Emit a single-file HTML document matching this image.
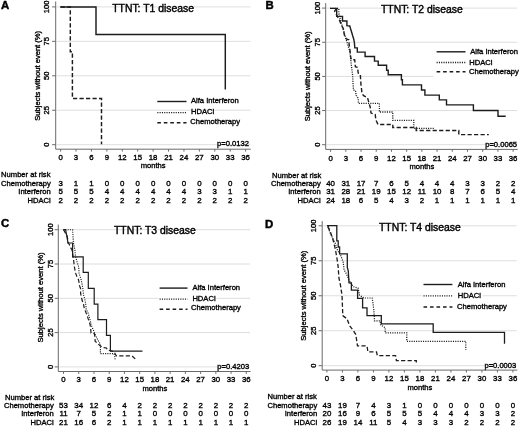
<!DOCTYPE html><html><head><meta charset="utf-8"><style>html,body{margin:0;padding:0;background:#fff;}svg{display:block;filter:grayscale(1);}text{stroke:#000;stroke-width:0.35px;}</style></head><body>
<svg width="520" height="427" viewBox="0 0 520 427" style="font-family:'Liberation Sans', sans-serif">
<rect width="520" height="427" fill="#fff"/>
<g fill="#000"><line x1="56.7" y1="144.7" x2="250.3" y2="144.7" stroke="#dedede" stroke-width="1"/><line x1="56.7" y1="110.25" x2="250.3" y2="110.25" stroke="#dedede" stroke-width="1"/><line x1="56.7" y1="75.8" x2="250.3" y2="75.8" stroke="#dedede" stroke-width="1"/><line x1="56.7" y1="41.35" x2="250.3" y2="41.35" stroke="#dedede" stroke-width="1"/><line x1="56.7" y1="6.9" x2="250.3" y2="6.9" stroke="#dedede" stroke-width="1"/><path d="M55.7,1.5 V149.2 H250.8" fill="none" stroke="#6a6a6a" stroke-width="1"/><line x1="52.1" y1="144.7" x2="55.7" y2="144.7" stroke="#6a6a6a" stroke-width="1"/><text transform="translate(49.4,144.7) rotate(-90)" text-anchor="middle" font-size="7.6">0</text><line x1="52.1" y1="110.25" x2="55.7" y2="110.25" stroke="#6a6a6a" stroke-width="1"/><text transform="translate(49.4,110.25) rotate(-90)" text-anchor="middle" font-size="7.6">25</text><line x1="52.1" y1="75.8" x2="55.7" y2="75.8" stroke="#6a6a6a" stroke-width="1"/><text transform="translate(49.4,75.8) rotate(-90)" text-anchor="middle" font-size="7.6">50</text><line x1="52.1" y1="41.35" x2="55.7" y2="41.35" stroke="#6a6a6a" stroke-width="1"/><text transform="translate(49.4,41.35) rotate(-90)" text-anchor="middle" font-size="7.6">75</text><line x1="52.1" y1="6.9" x2="55.7" y2="6.9" stroke="#6a6a6a" stroke-width="1"/><text transform="translate(49.4,6.9) rotate(-90)" text-anchor="middle" font-size="7.6">100</text><line x1="60.6" y1="149.2" x2="60.6" y2="151.6" stroke="#6a6a6a" stroke-width="1"/><text x="60.6" y="159.7" text-anchor="middle" font-size="7.8">0</text><line x1="76.02" y1="149.2" x2="76.02" y2="151.6" stroke="#6a6a6a" stroke-width="1"/><text x="76.02" y="159.7" text-anchor="middle" font-size="7.8">3</text><line x1="91.43" y1="149.2" x2="91.43" y2="151.6" stroke="#6a6a6a" stroke-width="1"/><text x="91.43" y="159.7" text-anchor="middle" font-size="7.8">6</text><line x1="106.85" y1="149.2" x2="106.85" y2="151.6" stroke="#6a6a6a" stroke-width="1"/><text x="106.85" y="159.7" text-anchor="middle" font-size="7.8">9</text><line x1="122.27" y1="149.2" x2="122.27" y2="151.6" stroke="#6a6a6a" stroke-width="1"/><text x="122.27" y="159.7" text-anchor="middle" font-size="7.8">12</text><line x1="137.69" y1="149.2" x2="137.69" y2="151.6" stroke="#6a6a6a" stroke-width="1"/><text x="137.69" y="159.7" text-anchor="middle" font-size="7.8">15</text><line x1="153.1" y1="149.2" x2="153.1" y2="151.6" stroke="#6a6a6a" stroke-width="1"/><text x="153.1" y="159.7" text-anchor="middle" font-size="7.8">18</text><line x1="168.52" y1="149.2" x2="168.52" y2="151.6" stroke="#6a6a6a" stroke-width="1"/><text x="168.52" y="159.7" text-anchor="middle" font-size="7.8">21</text><line x1="183.94" y1="149.2" x2="183.94" y2="151.6" stroke="#6a6a6a" stroke-width="1"/><text x="183.94" y="159.7" text-anchor="middle" font-size="7.8">24</text><line x1="199.35" y1="149.2" x2="199.35" y2="151.6" stroke="#6a6a6a" stroke-width="1"/><text x="199.35" y="159.7" text-anchor="middle" font-size="7.8">27</text><line x1="214.77" y1="149.2" x2="214.77" y2="151.6" stroke="#6a6a6a" stroke-width="1"/><text x="214.77" y="159.7" text-anchor="middle" font-size="7.8">30</text><line x1="230.19" y1="149.2" x2="230.19" y2="151.6" stroke="#6a6a6a" stroke-width="1"/><text x="230.19" y="159.7" text-anchor="middle" font-size="7.8">33</text><line x1="245.6" y1="149.2" x2="245.6" y2="151.6" stroke="#6a6a6a" stroke-width="1"/><text x="245.6" y="159.7" text-anchor="middle" font-size="7.8">36</text><text x="153.1" y="168.3" text-anchor="middle" font-size="7.6">months</text><text transform="translate(39.8,75.8) rotate(-90)" text-anchor="middle" font-size="7.6">Subjects without event (%)</text><text x="153.1" y="11.9" text-anchor="middle" font-size="10.4" style="stroke-width:0.4px">TTNT: T1 disease</text><text x="1" y="8.9" font-size="11.4" font-weight="bold" style="stroke-width:0.45px">A</text><text x="249" y="146.3" text-anchor="end" font-size="7.6">p=0.0132</text><path d="M60.6,6.9 H70.3 V51.8 H72.4 V98.5 H101.5 V144.3" fill="none" stroke="#1c1c1c" stroke-width="1.45" stroke-dasharray="4.2 2.3"/><path d="M60.2,6.9 H96 V34.5 H225.3 V89.4" fill="none" stroke="#1c1c1c" stroke-width="1.45"/><line x1="157.3" y1="101.5" x2="186.5" y2="101.5" stroke="#1c1c1c" stroke-width="1.4"/><text x="191" y="103.3" font-size="7.6">Alfa Interferon</text><line x1="157.3" y1="112.7" x2="186.5" y2="112.7" stroke="#1c1c1c" stroke-width="1.3" stroke-dasharray="1.1 1.2"/><text x="191" y="113.9" font-size="7.6">HDACi</text><line x1="157.3" y1="122.7" x2="186.5" y2="122.7" stroke="#1c1c1c" stroke-width="1.4" stroke-dasharray="3.6 2.9"/><text x="190.3" y="124.1" font-size="7.6">Chemotherapy</text><text x="1.1" y="177.4" font-size="7.6">Number at risk</text><text x="50.8" y="185.5" text-anchor="end" font-size="7.6">Chemotherapy</text><text x="60.6" y="185.5" text-anchor="middle" font-size="7.9">3</text><text x="76.02" y="185.5" text-anchor="middle" font-size="7.9">1</text><text x="91.43" y="185.5" text-anchor="middle" font-size="7.9">1</text><text x="106.85" y="185.5" text-anchor="middle" font-size="7.9">0</text><text x="122.27" y="185.5" text-anchor="middle" font-size="7.9">0</text><text x="137.69" y="185.5" text-anchor="middle" font-size="7.9">0</text><text x="153.1" y="185.5" text-anchor="middle" font-size="7.9">0</text><text x="168.52" y="185.5" text-anchor="middle" font-size="7.9">0</text><text x="183.94" y="185.5" text-anchor="middle" font-size="7.9">0</text><text x="199.35" y="185.5" text-anchor="middle" font-size="7.9">0</text><text x="214.77" y="185.5" text-anchor="middle" font-size="7.9">0</text><text x="230.19" y="185.5" text-anchor="middle" font-size="7.9">0</text><text x="245.6" y="185.5" text-anchor="middle" font-size="7.9">0</text><text x="50.8" y="194.1" text-anchor="end" font-size="7.6">Interferon</text><text x="60.6" y="194.1" text-anchor="middle" font-size="7.9">5</text><text x="76.02" y="194.1" text-anchor="middle" font-size="7.9">5</text><text x="91.43" y="194.1" text-anchor="middle" font-size="7.9">5</text><text x="106.85" y="194.1" text-anchor="middle" font-size="7.9">4</text><text x="122.27" y="194.1" text-anchor="middle" font-size="7.9">4</text><text x="137.69" y="194.1" text-anchor="middle" font-size="7.9">4</text><text x="153.1" y="194.1" text-anchor="middle" font-size="7.9">4</text><text x="168.52" y="194.1" text-anchor="middle" font-size="7.9">4</text><text x="183.94" y="194.1" text-anchor="middle" font-size="7.9">4</text><text x="199.35" y="194.1" text-anchor="middle" font-size="7.9">3</text><text x="214.77" y="194.1" text-anchor="middle" font-size="7.9">3</text><text x="230.19" y="194.1" text-anchor="middle" font-size="7.9">1</text><text x="245.6" y="194.1" text-anchor="middle" font-size="7.9">1</text><text x="50.8" y="202.9" text-anchor="end" font-size="7.6">HDACi</text><text x="60.6" y="202.9" text-anchor="middle" font-size="7.9">2</text><text x="76.02" y="202.9" text-anchor="middle" font-size="7.9">2</text><text x="91.43" y="202.9" text-anchor="middle" font-size="7.9">2</text><text x="106.85" y="202.9" text-anchor="middle" font-size="7.9">2</text><text x="122.27" y="202.9" text-anchor="middle" font-size="7.9">2</text><text x="137.69" y="202.9" text-anchor="middle" font-size="7.9">2</text><text x="153.1" y="202.9" text-anchor="middle" font-size="7.9">2</text><text x="168.52" y="202.9" text-anchor="middle" font-size="7.9">2</text><text x="183.94" y="202.9" text-anchor="middle" font-size="7.9">2</text><text x="199.35" y="202.9" text-anchor="middle" font-size="7.9">2</text><text x="214.77" y="202.9" text-anchor="middle" font-size="7.9">2</text><text x="230.19" y="202.9" text-anchor="middle" font-size="7.9">2</text><text x="245.6" y="202.9" text-anchor="middle" font-size="7.9">2</text></g>
<g fill="#000"><line x1="326.7" y1="144.7" x2="517.2" y2="144.7" stroke="#dedede" stroke-width="1"/><line x1="326.7" y1="110.55" x2="517.2" y2="110.55" stroke="#dedede" stroke-width="1"/><line x1="326.7" y1="76.4" x2="517.2" y2="76.4" stroke="#dedede" stroke-width="1"/><line x1="326.7" y1="42.25" x2="517.2" y2="42.25" stroke="#dedede" stroke-width="1"/><line x1="326.7" y1="8.1" x2="517.2" y2="8.1" stroke="#dedede" stroke-width="1"/><path d="M325.7,3.1 V149.4 H517.7" fill="none" stroke="#6a6a6a" stroke-width="1"/><line x1="322.1" y1="144.7" x2="325.7" y2="144.7" stroke="#6a6a6a" stroke-width="1"/><text transform="translate(319.5,144.7) rotate(-90)" text-anchor="middle" font-size="7.6">0</text><line x1="322.1" y1="110.55" x2="325.7" y2="110.55" stroke="#6a6a6a" stroke-width="1"/><text transform="translate(319.5,110.55) rotate(-90)" text-anchor="middle" font-size="7.6">25</text><line x1="322.1" y1="76.4" x2="325.7" y2="76.4" stroke="#6a6a6a" stroke-width="1"/><text transform="translate(319.5,76.4) rotate(-90)" text-anchor="middle" font-size="7.6">50</text><line x1="322.1" y1="42.25" x2="325.7" y2="42.25" stroke="#6a6a6a" stroke-width="1"/><text transform="translate(319.5,42.25) rotate(-90)" text-anchor="middle" font-size="7.6">75</text><line x1="322.1" y1="8.1" x2="325.7" y2="8.1" stroke="#6a6a6a" stroke-width="1"/><text transform="translate(319.5,8.1) rotate(-90)" text-anchor="middle" font-size="7.6">100</text><line x1="330.6" y1="149.4" x2="330.6" y2="151.8" stroke="#6a6a6a" stroke-width="1"/><text x="330.6" y="160.9" text-anchor="middle" font-size="7.8">0</text><line x1="345.81" y1="149.4" x2="345.81" y2="151.8" stroke="#6a6a6a" stroke-width="1"/><text x="345.81" y="160.9" text-anchor="middle" font-size="7.8">3</text><line x1="361.02" y1="149.4" x2="361.02" y2="151.8" stroke="#6a6a6a" stroke-width="1"/><text x="361.02" y="160.9" text-anchor="middle" font-size="7.8">6</text><line x1="376.23" y1="149.4" x2="376.23" y2="151.8" stroke="#6a6a6a" stroke-width="1"/><text x="376.23" y="160.9" text-anchor="middle" font-size="7.8">9</text><line x1="391.44" y1="149.4" x2="391.44" y2="151.8" stroke="#6a6a6a" stroke-width="1"/><text x="391.44" y="160.9" text-anchor="middle" font-size="7.8">12</text><line x1="406.65" y1="149.4" x2="406.65" y2="151.8" stroke="#6a6a6a" stroke-width="1"/><text x="406.65" y="160.9" text-anchor="middle" font-size="7.8">15</text><line x1="421.86" y1="149.4" x2="421.86" y2="151.8" stroke="#6a6a6a" stroke-width="1"/><text x="421.86" y="160.9" text-anchor="middle" font-size="7.8">18</text><line x1="437.07" y1="149.4" x2="437.07" y2="151.8" stroke="#6a6a6a" stroke-width="1"/><text x="437.07" y="160.9" text-anchor="middle" font-size="7.8">21</text><line x1="452.28" y1="149.4" x2="452.28" y2="151.8" stroke="#6a6a6a" stroke-width="1"/><text x="452.28" y="160.9" text-anchor="middle" font-size="7.8">24</text><line x1="467.49" y1="149.4" x2="467.49" y2="151.8" stroke="#6a6a6a" stroke-width="1"/><text x="467.49" y="160.9" text-anchor="middle" font-size="7.8">27</text><line x1="482.7" y1="149.4" x2="482.7" y2="151.8" stroke="#6a6a6a" stroke-width="1"/><text x="482.7" y="160.9" text-anchor="middle" font-size="7.8">30</text><line x1="497.91" y1="149.4" x2="497.91" y2="151.8" stroke="#6a6a6a" stroke-width="1"/><text x="497.91" y="160.9" text-anchor="middle" font-size="7.8">33</text><line x1="513.12" y1="149.4" x2="513.12" y2="151.8" stroke="#6a6a6a" stroke-width="1"/><text x="513.12" y="160.9" text-anchor="middle" font-size="7.8">36</text><text x="421.86" y="168.5" text-anchor="middle" font-size="7.6">months</text><text transform="translate(310.4,76.4) rotate(-90)" text-anchor="middle" font-size="7.6">Subjects without event (%)</text><text x="421.86" y="13.1" text-anchor="middle" font-size="10.4" style="stroke-width:0.4px">TTNT: T2 disease</text><text x="265.4" y="8.9" font-size="11.4" font-weight="bold" style="stroke-width:0.45px">B</text><text x="517.1" y="146.5" text-anchor="end" font-size="7.6">p=0.0065</text><path d="M330.1,8.4 H338.8 V13.4 L340.5,20 L342.5,27 L344.5,34 L346.3,40 L349.8,51.2 L351.2,63.9 L352.6,75.1 L353.4,89.9 L355.5,90.6 L356.2,95.5 L358.3,98.3 V103.3 H379.4 V112 H392.8 V120.3 H413.8 V128.3 H434.6" fill="none" stroke="#1c1c1c" stroke-width="1.3" stroke-dasharray="1.1 1.2"/><path d="M336.5,8.6 L334.6,11 L337,16 L339,19 L341.4,25 L343.5,29.2 L344.2,34.1 L344.9,37 L346.3,39 L348.8,39.8 L349.1,44 L349.8,48.9 L350.5,55.5 L351.2,59.7 H354.7 L355.4,66.7 L357.5,67.4 L358.2,73 L360.3,74.4 L361,85 L361.9,92 L363.3,95.5 L367.5,97.6 L368.9,102.6 L370.3,107.5 L371,113.1 L375.2,114.5 L375.9,120.1 L378,124.5 H392.8 V127.5 H416.2 V130.5 H458.8 V134.6 H488.8" fill="none" stroke="#1c1c1c" stroke-width="1.4" stroke-dasharray="4.2 2.3"/><path d="M330.1,8.4 H336.7 V16.4 H342.5 V21 H346.9 V25.6 L349.8,26 L350.5,28.5 L351.6,32 L352.6,35.5 L353.7,39 L354.4,42.6 L354.8,47.9 H357.3 V52.1 H365.1 V56.5 H374.5 V61.1 H378.2 V65.3 H386.6 V70.2 H388.2 V74.8 H401.4 V79.7 H402.4 V84.9 H421.5 V90 H424.9 V95.1 H439.3 V99.9 H446.5 V104.9 H473.4 V110.5 H498 V116.2 H505.7" fill="none" stroke="#1c1c1c" stroke-width="1.4"/><rect x="433.5" y="75.15" width="85.5" height="2.4" fill="#fff"/><line x1="436.6" y1="51.8" x2="465.5" y2="51.8" stroke="#1c1c1c" stroke-width="1.4"/><text x="470.2" y="53.5" font-size="7.6">Alfa Interferon</text><line x1="436.6" y1="62.5" x2="465.5" y2="62.5" stroke="#1c1c1c" stroke-width="1.3" stroke-dasharray="1.1 1.2"/><text x="469.2" y="64.7" font-size="7.6">HDACi</text><line x1="436.6" y1="71.7" x2="465.5" y2="71.7" stroke="#1c1c1c" stroke-width="1.4" stroke-dasharray="3.6 2.9"/><text x="469" y="73.7" font-size="7.6">Chemotherapy</text><text x="272" y="178" font-size="7.6">Number at risk</text><text x="320.75" y="186" text-anchor="end" font-size="7.6">Chemotherapy</text><text x="330.6" y="186" text-anchor="middle" font-size="7.9">40</text><text x="345.81" y="186" text-anchor="middle" font-size="7.9">31</text><text x="361.02" y="186" text-anchor="middle" font-size="7.9">17</text><text x="376.23" y="186" text-anchor="middle" font-size="7.9">7</text><text x="391.44" y="186" text-anchor="middle" font-size="7.9">6</text><text x="406.65" y="186" text-anchor="middle" font-size="7.9">5</text><text x="421.86" y="186" text-anchor="middle" font-size="7.9">4</text><text x="437.07" y="186" text-anchor="middle" font-size="7.9">4</text><text x="452.28" y="186" text-anchor="middle" font-size="7.9">4</text><text x="467.49" y="186" text-anchor="middle" font-size="7.9">3</text><text x="482.7" y="186" text-anchor="middle" font-size="7.9">3</text><text x="497.91" y="186" text-anchor="middle" font-size="7.9">2</text><text x="513.12" y="186" text-anchor="middle" font-size="7.9">2</text><text x="320.75" y="194.3" text-anchor="end" font-size="7.6">Interferon</text><text x="330.6" y="194.3" text-anchor="middle" font-size="7.9">31</text><text x="345.81" y="194.3" text-anchor="middle" font-size="7.9">28</text><text x="361.02" y="194.3" text-anchor="middle" font-size="7.9">21</text><text x="376.23" y="194.3" text-anchor="middle" font-size="7.9">19</text><text x="391.44" y="194.3" text-anchor="middle" font-size="7.9">15</text><text x="406.65" y="194.3" text-anchor="middle" font-size="7.9">12</text><text x="421.86" y="194.3" text-anchor="middle" font-size="7.9">11</text><text x="437.07" y="194.3" text-anchor="middle" font-size="7.9">10</text><text x="452.28" y="194.3" text-anchor="middle" font-size="7.9">8</text><text x="467.49" y="194.3" text-anchor="middle" font-size="7.9">7</text><text x="482.7" y="194.3" text-anchor="middle" font-size="7.9">6</text><text x="497.91" y="194.3" text-anchor="middle" font-size="7.9">5</text><text x="513.12" y="194.3" text-anchor="middle" font-size="7.9">4</text><text x="320.75" y="202.9" text-anchor="end" font-size="7.6">HDACi</text><text x="330.6" y="202.9" text-anchor="middle" font-size="7.9">24</text><text x="345.81" y="202.9" text-anchor="middle" font-size="7.9">18</text><text x="361.02" y="202.9" text-anchor="middle" font-size="7.9">6</text><text x="376.23" y="202.9" text-anchor="middle" font-size="7.9">5</text><text x="391.44" y="202.9" text-anchor="middle" font-size="7.9">4</text><text x="406.65" y="202.9" text-anchor="middle" font-size="7.9">3</text><text x="421.86" y="202.9" text-anchor="middle" font-size="7.9">2</text><text x="437.07" y="202.9" text-anchor="middle" font-size="7.9">1</text><text x="452.28" y="202.9" text-anchor="middle" font-size="7.9">1</text><text x="467.49" y="202.9" text-anchor="middle" font-size="7.9">1</text><text x="482.7" y="202.9" text-anchor="middle" font-size="7.9">1</text><text x="497.91" y="202.9" text-anchor="middle" font-size="7.9">1</text><text x="513.12" y="202.9" text-anchor="middle" font-size="7.9">1</text></g>
<g fill="#000"><line x1="59.3" y1="366.9" x2="250.1" y2="366.9" stroke="#dedede" stroke-width="1"/><line x1="59.3" y1="332.6" x2="250.1" y2="332.6" stroke="#dedede" stroke-width="1"/><line x1="59.3" y1="298.3" x2="250.1" y2="298.3" stroke="#dedede" stroke-width="1"/><line x1="59.3" y1="264" x2="250.1" y2="264" stroke="#dedede" stroke-width="1"/><line x1="59.3" y1="229.7" x2="250.1" y2="229.7" stroke="#dedede" stroke-width="1"/><path d="M58.3,224.6 V371.5 H250.6" fill="none" stroke="#6a6a6a" stroke-width="1"/><line x1="54.7" y1="366.9" x2="58.3" y2="366.9" stroke="#6a6a6a" stroke-width="1"/><text transform="translate(52.6,366.9) rotate(-90)" text-anchor="middle" font-size="7.6">0</text><line x1="54.7" y1="332.6" x2="58.3" y2="332.6" stroke="#6a6a6a" stroke-width="1"/><text transform="translate(52.6,332.6) rotate(-90)" text-anchor="middle" font-size="7.6">25</text><line x1="54.7" y1="298.3" x2="58.3" y2="298.3" stroke="#6a6a6a" stroke-width="1"/><text transform="translate(52.6,298.3) rotate(-90)" text-anchor="middle" font-size="7.6">50</text><line x1="54.7" y1="264" x2="58.3" y2="264" stroke="#6a6a6a" stroke-width="1"/><text transform="translate(52.6,264) rotate(-90)" text-anchor="middle" font-size="7.6">75</text><line x1="54.7" y1="229.7" x2="58.3" y2="229.7" stroke="#6a6a6a" stroke-width="1"/><text transform="translate(52.6,229.7) rotate(-90)" text-anchor="middle" font-size="7.6">100</text><line x1="63.5" y1="371.5" x2="63.5" y2="373.9" stroke="#6a6a6a" stroke-width="1"/><text x="63.5" y="382.1" text-anchor="middle" font-size="7.8">0</text><line x1="78.73" y1="371.5" x2="78.73" y2="373.9" stroke="#6a6a6a" stroke-width="1"/><text x="78.73" y="382.1" text-anchor="middle" font-size="7.8">3</text><line x1="93.97" y1="371.5" x2="93.97" y2="373.9" stroke="#6a6a6a" stroke-width="1"/><text x="93.97" y="382.1" text-anchor="middle" font-size="7.8">6</text><line x1="109.2" y1="371.5" x2="109.2" y2="373.9" stroke="#6a6a6a" stroke-width="1"/><text x="109.2" y="382.1" text-anchor="middle" font-size="7.8">9</text><line x1="124.44" y1="371.5" x2="124.44" y2="373.9" stroke="#6a6a6a" stroke-width="1"/><text x="124.44" y="382.1" text-anchor="middle" font-size="7.8">12</text><line x1="139.67" y1="371.5" x2="139.67" y2="373.9" stroke="#6a6a6a" stroke-width="1"/><text x="139.67" y="382.1" text-anchor="middle" font-size="7.8">15</text><line x1="154.9" y1="371.5" x2="154.9" y2="373.9" stroke="#6a6a6a" stroke-width="1"/><text x="154.9" y="382.1" text-anchor="middle" font-size="7.8">18</text><line x1="170.14" y1="371.5" x2="170.14" y2="373.9" stroke="#6a6a6a" stroke-width="1"/><text x="170.14" y="382.1" text-anchor="middle" font-size="7.8">21</text><line x1="185.37" y1="371.5" x2="185.37" y2="373.9" stroke="#6a6a6a" stroke-width="1"/><text x="185.37" y="382.1" text-anchor="middle" font-size="7.8">24</text><line x1="200.61" y1="371.5" x2="200.61" y2="373.9" stroke="#6a6a6a" stroke-width="1"/><text x="200.61" y="382.1" text-anchor="middle" font-size="7.8">27</text><line x1="215.84" y1="371.5" x2="215.84" y2="373.9" stroke="#6a6a6a" stroke-width="1"/><text x="215.84" y="382.1" text-anchor="middle" font-size="7.8">30</text><line x1="231.07" y1="371.5" x2="231.07" y2="373.9" stroke="#6a6a6a" stroke-width="1"/><text x="231.07" y="382.1" text-anchor="middle" font-size="7.8">33</text><line x1="246.31" y1="371.5" x2="246.31" y2="373.9" stroke="#6a6a6a" stroke-width="1"/><text x="246.31" y="382.1" text-anchor="middle" font-size="7.8">36</text><text x="154.9" y="391" text-anchor="middle" font-size="7.6">months</text><text transform="translate(43,297.5) rotate(-90)" text-anchor="middle" font-size="7.6">Subjects without event (%)</text><text x="154.9" y="234.3" text-anchor="middle" font-size="10.4" style="stroke-width:0.4px">TTNT: T3 disease</text><text x="0.9" y="227.1" font-size="11.4" font-weight="bold" style="stroke-width:0.45px">C</text><text x="249.2" y="368.5" text-anchor="end" font-size="7.6">p=0.4203</text><path d="M63,229.8 H72.6 L73.4,242.6 L74.9,250 L75.4,255.6 L76.8,261.2 L78.7,266.9 L79.1,273.4 L80,276.2 L81.5,281 L82.9,288.7 L83.4,294.4 L84.8,299.1 L85.7,303.7 L86.2,309.4 L88.1,313.1 L89.5,317.8 L90.5,321.5 L91,324.6 L93.4,330.2 L96.2,336.7 L98.1,340.5 L100.4,344.2 V353.6 H114 L114.6,355.8 L115.2,359.8" fill="none" stroke="#1c1c1c" stroke-width="1.12" stroke-dasharray="1.1 1.2"/><path d="M63.6,229.8 L65.6,233.4 L67,235.5 L67.7,239 L68.1,242.9 L69.5,244.7 L70.5,247.5 L71.9,249.6 L72.6,253.1 L73.5,259.4 L74.4,266.9 L75.4,272.5 L76.8,276.2 L78.6,280 L79.6,285.9 L80.6,288.7 L80.6,293.4 L81.5,297.2 L82,300 L83.4,303.7 L84.3,308.4 L86.2,313.1 L87.6,316.9 L88.2,318.9 L89.6,322.7 L90.6,327.4 L91,333 L94.3,333.5 L94.8,336.7 L95.2,341.4 L97.1,342.8 L99.5,345.2 L102.7,347.5 L106.5,348 L107.4,349.9 L111.2,350.8 L114,351.7 L116.3,355.8 H131.9 L133.7,357.5 L137.1,360.4" fill="none" stroke="#1c1c1c" stroke-width="1.2" stroke-dasharray="4.2 2.3"/><path d="M63.6,229.7 H65.6 L66.8,236 L68,243 H72.6 V256.9 H83.2 V272.4 H88.3 V288.3 H94.2 V304.2 H97.9 V319.7 H106.5 V335.3 H110.4 V351.1 H142.5" fill="none" stroke="#1c1c1c" stroke-width="1.2"/><rect x="158.5" y="297.1" width="58" height="2.4" fill="#fff"/><line x1="159.6" y1="288.1" x2="187.5" y2="288.1" stroke="#1c1c1c" stroke-width="1.4"/><text x="192.4" y="290.2" font-size="7.6">Alfa Interferon</text><line x1="159.6" y1="299.2" x2="187.5" y2="299.2" stroke="#1c1c1c" stroke-width="1.3" stroke-dasharray="1.1 1.2"/><text x="192.4" y="301.1" font-size="7.6">HDACi</text><line x1="159.6" y1="309.2" x2="187.5" y2="309.2" stroke="#1c1c1c" stroke-width="1.4" stroke-dasharray="3.6 2.9"/><text x="191.1" y="310.4" font-size="7.6">Chemotherapy</text><text x="5" y="400" font-size="7.6">Number at risk</text><text x="53.75" y="408.3" text-anchor="end" font-size="7.6">Chemotherapy</text><text x="63.5" y="408.3" text-anchor="middle" font-size="7.9">53</text><text x="78.73" y="408.3" text-anchor="middle" font-size="7.9">34</text><text x="93.97" y="408.3" text-anchor="middle" font-size="7.9">12</text><text x="109.2" y="408.3" text-anchor="middle" font-size="7.9">6</text><text x="124.44" y="408.3" text-anchor="middle" font-size="7.9">4</text><text x="139.67" y="408.3" text-anchor="middle" font-size="7.9">2</text><text x="154.9" y="408.3" text-anchor="middle" font-size="7.9">2</text><text x="170.14" y="408.3" text-anchor="middle" font-size="7.9">2</text><text x="185.37" y="408.3" text-anchor="middle" font-size="7.9">2</text><text x="200.61" y="408.3" text-anchor="middle" font-size="7.9">2</text><text x="215.84" y="408.3" text-anchor="middle" font-size="7.9">2</text><text x="231.07" y="408.3" text-anchor="middle" font-size="7.9">2</text><text x="246.31" y="408.3" text-anchor="middle" font-size="7.9">2</text><text x="53.75" y="416.3" text-anchor="end" font-size="7.6">Interferon</text><text x="63.5" y="416.3" text-anchor="middle" font-size="7.9">11</text><text x="78.73" y="416.3" text-anchor="middle" font-size="7.9">7</text><text x="93.97" y="416.3" text-anchor="middle" font-size="7.9">5</text><text x="109.2" y="416.3" text-anchor="middle" font-size="7.9">2</text><text x="124.44" y="416.3" text-anchor="middle" font-size="7.9">1</text><text x="139.67" y="416.3" text-anchor="middle" font-size="7.9">1</text><text x="154.9" y="416.3" text-anchor="middle" font-size="7.9">0</text><text x="170.14" y="416.3" text-anchor="middle" font-size="7.9">0</text><text x="185.37" y="416.3" text-anchor="middle" font-size="7.9">0</text><text x="200.61" y="416.3" text-anchor="middle" font-size="7.9">0</text><text x="215.84" y="416.3" text-anchor="middle" font-size="7.9">0</text><text x="231.07" y="416.3" text-anchor="middle" font-size="7.9">0</text><text x="246.31" y="416.3" text-anchor="middle" font-size="7.9">0</text><text x="53.75" y="424.5" text-anchor="end" font-size="7.6">HDACi</text><text x="63.5" y="424.5" text-anchor="middle" font-size="7.9">21</text><text x="78.73" y="424.5" text-anchor="middle" font-size="7.9">16</text><text x="93.97" y="424.5" text-anchor="middle" font-size="7.9">6</text><text x="109.2" y="424.5" text-anchor="middle" font-size="7.9">2</text><text x="124.44" y="424.5" text-anchor="middle" font-size="7.9">1</text><text x="139.67" y="424.5" text-anchor="middle" font-size="7.9">1</text><text x="154.9" y="424.5" text-anchor="middle" font-size="7.9">1</text><text x="170.14" y="424.5" text-anchor="middle" font-size="7.9">1</text><text x="185.37" y="424.5" text-anchor="middle" font-size="7.9">1</text><text x="200.61" y="424.5" text-anchor="middle" font-size="7.9">1</text><text x="215.84" y="424.5" text-anchor="middle" font-size="7.9">1</text><text x="231.07" y="424.5" text-anchor="middle" font-size="7.9">1</text><text x="246.31" y="424.5" text-anchor="middle" font-size="7.9">1</text></g>
<g fill="#000"><line x1="323.2" y1="365.7" x2="516.8" y2="365.7" stroke="#dedede" stroke-width="1"/><line x1="323.2" y1="330.72" x2="516.8" y2="330.72" stroke="#dedede" stroke-width="1"/><line x1="323.2" y1="295.75" x2="516.8" y2="295.75" stroke="#dedede" stroke-width="1"/><line x1="323.2" y1="260.77" x2="516.8" y2="260.77" stroke="#dedede" stroke-width="1"/><line x1="323.2" y1="225.8" x2="516.8" y2="225.8" stroke="#dedede" stroke-width="1"/><path d="M322.2,221.1 V370.1 H517.3" fill="none" stroke="#6a6a6a" stroke-width="1"/><line x1="318.6" y1="365.7" x2="322.2" y2="365.7" stroke="#6a6a6a" stroke-width="1"/><text transform="translate(316,365.7) rotate(-90)" text-anchor="middle" font-size="7.6">0</text><line x1="318.6" y1="330.72" x2="322.2" y2="330.72" stroke="#6a6a6a" stroke-width="1"/><text transform="translate(316,330.72) rotate(-90)" text-anchor="middle" font-size="7.6">25</text><line x1="318.6" y1="295.75" x2="322.2" y2="295.75" stroke="#6a6a6a" stroke-width="1"/><text transform="translate(316,295.75) rotate(-90)" text-anchor="middle" font-size="7.6">50</text><line x1="318.6" y1="260.77" x2="322.2" y2="260.77" stroke="#6a6a6a" stroke-width="1"/><text transform="translate(316,260.77) rotate(-90)" text-anchor="middle" font-size="7.6">75</text><line x1="318.6" y1="225.8" x2="322.2" y2="225.8" stroke="#6a6a6a" stroke-width="1"/><text transform="translate(316,225.8) rotate(-90)" text-anchor="middle" font-size="7.6">100</text><line x1="326.9" y1="370.1" x2="326.9" y2="372.5" stroke="#6a6a6a" stroke-width="1"/><text x="326.9" y="381.3" text-anchor="middle" font-size="7.8">0</text><line x1="342.4" y1="370.1" x2="342.4" y2="372.5" stroke="#6a6a6a" stroke-width="1"/><text x="342.4" y="381.3" text-anchor="middle" font-size="7.8">3</text><line x1="357.9" y1="370.1" x2="357.9" y2="372.5" stroke="#6a6a6a" stroke-width="1"/><text x="357.9" y="381.3" text-anchor="middle" font-size="7.8">6</text><line x1="373.4" y1="370.1" x2="373.4" y2="372.5" stroke="#6a6a6a" stroke-width="1"/><text x="373.4" y="381.3" text-anchor="middle" font-size="7.8">9</text><line x1="388.9" y1="370.1" x2="388.9" y2="372.5" stroke="#6a6a6a" stroke-width="1"/><text x="388.9" y="381.3" text-anchor="middle" font-size="7.8">12</text><line x1="404.4" y1="370.1" x2="404.4" y2="372.5" stroke="#6a6a6a" stroke-width="1"/><text x="404.4" y="381.3" text-anchor="middle" font-size="7.8">15</text><line x1="419.91" y1="370.1" x2="419.91" y2="372.5" stroke="#6a6a6a" stroke-width="1"/><text x="419.91" y="381.3" text-anchor="middle" font-size="7.8">18</text><line x1="435.41" y1="370.1" x2="435.41" y2="372.5" stroke="#6a6a6a" stroke-width="1"/><text x="435.41" y="381.3" text-anchor="middle" font-size="7.8">21</text><line x1="450.91" y1="370.1" x2="450.91" y2="372.5" stroke="#6a6a6a" stroke-width="1"/><text x="450.91" y="381.3" text-anchor="middle" font-size="7.8">24</text><line x1="466.41" y1="370.1" x2="466.41" y2="372.5" stroke="#6a6a6a" stroke-width="1"/><text x="466.41" y="381.3" text-anchor="middle" font-size="7.8">27</text><line x1="481.91" y1="370.1" x2="481.91" y2="372.5" stroke="#6a6a6a" stroke-width="1"/><text x="481.91" y="381.3" text-anchor="middle" font-size="7.8">30</text><line x1="497.41" y1="370.1" x2="497.41" y2="372.5" stroke="#6a6a6a" stroke-width="1"/><text x="497.41" y="381.3" text-anchor="middle" font-size="7.8">33</text><line x1="512.91" y1="370.1" x2="512.91" y2="372.5" stroke="#6a6a6a" stroke-width="1"/><text x="512.91" y="381.3" text-anchor="middle" font-size="7.8">36</text><text x="419.91" y="390.4" text-anchor="middle" font-size="7.6">months</text><text transform="translate(306.3,295.75) rotate(-90)" text-anchor="middle" font-size="7.6">Subjects without event (%)</text><text x="419.91" y="230.7" text-anchor="middle" font-size="10.4" style="stroke-width:0.4px">TTNT: T4 disease</text><text x="264.9" y="227.8" font-size="11.4" font-weight="bold" style="stroke-width:0.45px">D</text><text x="516.3" y="367.7" text-anchor="end" font-size="7.6">p=0.0003</text><path d="M328.3,225.7 L329.7,232 L332.5,237.7 L335.3,243.3 L337.5,250.3 L340.3,254.5 L343.1,261.6 L344.1,269.8 L346.5,274 L349,280 L353.2,286.7 L358.1,288.1 L359.5,295.1 L363.7,298 H372.2 L373.9,310.4 L374.5,320.8 H380 L380.9,325.1 L385.2,327.7 V332.9 H406.8 V341.3 H465.8 V349.8" fill="none" stroke="#1c1c1c" stroke-width="1.21" stroke-dasharray="1.1 1.2"/><path d="M327.6,226.4 L330.4,232 L333.2,240.5 L335.3,248.9 L337,258.5 L338.2,267.2 L338.9,278 L340.5,285.3 L342,295.1 L342.8,315.6 L347.1,319 L349.7,326 L353.2,330.3 L355.8,334.6 L357.5,345.9 H367 L367.9,351.9 H376.5 L377.4,355.7 H395.6 L396.4,360.6 H416.3 V364.9" fill="none" stroke="#1c1c1c" stroke-width="1.3" stroke-dasharray="4.2 2.3"/><path d="M326.9,225.7 H336.8 V240.8 H338.2 V247 H339.6 V253.8 H347.3 V267.5 L348.3,271.2 L349,282.8 H351.4 V290.2 H357.6 V298.3 H362.6 V307.8 H367 V315.6 H381.3 V323.9 H433.2 V332.4 H504.5 V343.7" fill="none" stroke="#1c1c1c" stroke-width="1.3"/><rect x="422.5" y="294.55" width="60.5" height="2.4" fill="#fff"/><line x1="423.5" y1="284.5" x2="452.4" y2="284.5" stroke="#1c1c1c" stroke-width="1.4"/><text x="457.8" y="287" font-size="7.6">Alfa Interferon</text><line x1="423.5" y1="295.8" x2="452.4" y2="295.8" stroke="#1c1c1c" stroke-width="1.3" stroke-dasharray="1.1 1.2"/><text x="457.8" y="298.3" font-size="7.6">HDACi</text><line x1="423.5" y1="307" x2="452.4" y2="307" stroke="#1c1c1c" stroke-width="1.4" stroke-dasharray="3.6 2.9"/><text x="457.1" y="309" font-size="7.6">Chemotherapy</text><text x="267.5" y="399.3" font-size="7.6">Number at risk</text><text x="317.25" y="407.5" text-anchor="end" font-size="7.6">Chemotherapy</text><text x="326.9" y="407.5" text-anchor="middle" font-size="7.9">43</text><text x="342.4" y="407.5" text-anchor="middle" font-size="7.9">19</text><text x="357.9" y="407.5" text-anchor="middle" font-size="7.9">7</text><text x="373.4" y="407.5" text-anchor="middle" font-size="7.9">4</text><text x="388.9" y="407.5" text-anchor="middle" font-size="7.9">3</text><text x="404.4" y="407.5" text-anchor="middle" font-size="7.9">1</text><text x="419.91" y="407.5" text-anchor="middle" font-size="7.9">0</text><text x="435.41" y="407.5" text-anchor="middle" font-size="7.9">0</text><text x="450.91" y="407.5" text-anchor="middle" font-size="7.9">0</text><text x="466.41" y="407.5" text-anchor="middle" font-size="7.9">0</text><text x="481.91" y="407.5" text-anchor="middle" font-size="7.9">0</text><text x="497.41" y="407.5" text-anchor="middle" font-size="7.9">0</text><text x="512.91" y="407.5" text-anchor="middle" font-size="7.9">0</text><text x="317.25" y="416" text-anchor="end" font-size="7.6">Interferon</text><text x="326.9" y="416" text-anchor="middle" font-size="7.9">20</text><text x="342.4" y="416" text-anchor="middle" font-size="7.9">16</text><text x="357.9" y="416" text-anchor="middle" font-size="7.9">9</text><text x="373.4" y="416" text-anchor="middle" font-size="7.9">6</text><text x="388.9" y="416" text-anchor="middle" font-size="7.9">5</text><text x="404.4" y="416" text-anchor="middle" font-size="7.9">5</text><text x="419.91" y="416" text-anchor="middle" font-size="7.9">5</text><text x="435.41" y="416" text-anchor="middle" font-size="7.9">4</text><text x="450.91" y="416" text-anchor="middle" font-size="7.9">4</text><text x="466.41" y="416" text-anchor="middle" font-size="7.9">4</text><text x="481.91" y="416" text-anchor="middle" font-size="7.9">3</text><text x="497.41" y="416" text-anchor="middle" font-size="7.9">3</text><text x="512.91" y="416" text-anchor="middle" font-size="7.9">2</text><text x="317.25" y="424.5" text-anchor="end" font-size="7.6">HDACi</text><text x="326.9" y="424.5" text-anchor="middle" font-size="7.9">26</text><text x="342.4" y="424.5" text-anchor="middle" font-size="7.9">19</text><text x="357.9" y="424.5" text-anchor="middle" font-size="7.9">14</text><text x="373.4" y="424.5" text-anchor="middle" font-size="7.9">11</text><text x="388.9" y="424.5" text-anchor="middle" font-size="7.9">5</text><text x="404.4" y="424.5" text-anchor="middle" font-size="7.9">4</text><text x="419.91" y="424.5" text-anchor="middle" font-size="7.9">3</text><text x="435.41" y="424.5" text-anchor="middle" font-size="7.9">3</text><text x="450.91" y="424.5" text-anchor="middle" font-size="7.9">3</text><text x="466.41" y="424.5" text-anchor="middle" font-size="7.9">2</text><text x="481.91" y="424.5" text-anchor="middle" font-size="7.9">2</text><text x="497.41" y="424.5" text-anchor="middle" font-size="7.9">2</text><text x="512.91" y="424.5" text-anchor="middle" font-size="7.9">2</text></g>
</svg></body></html>
